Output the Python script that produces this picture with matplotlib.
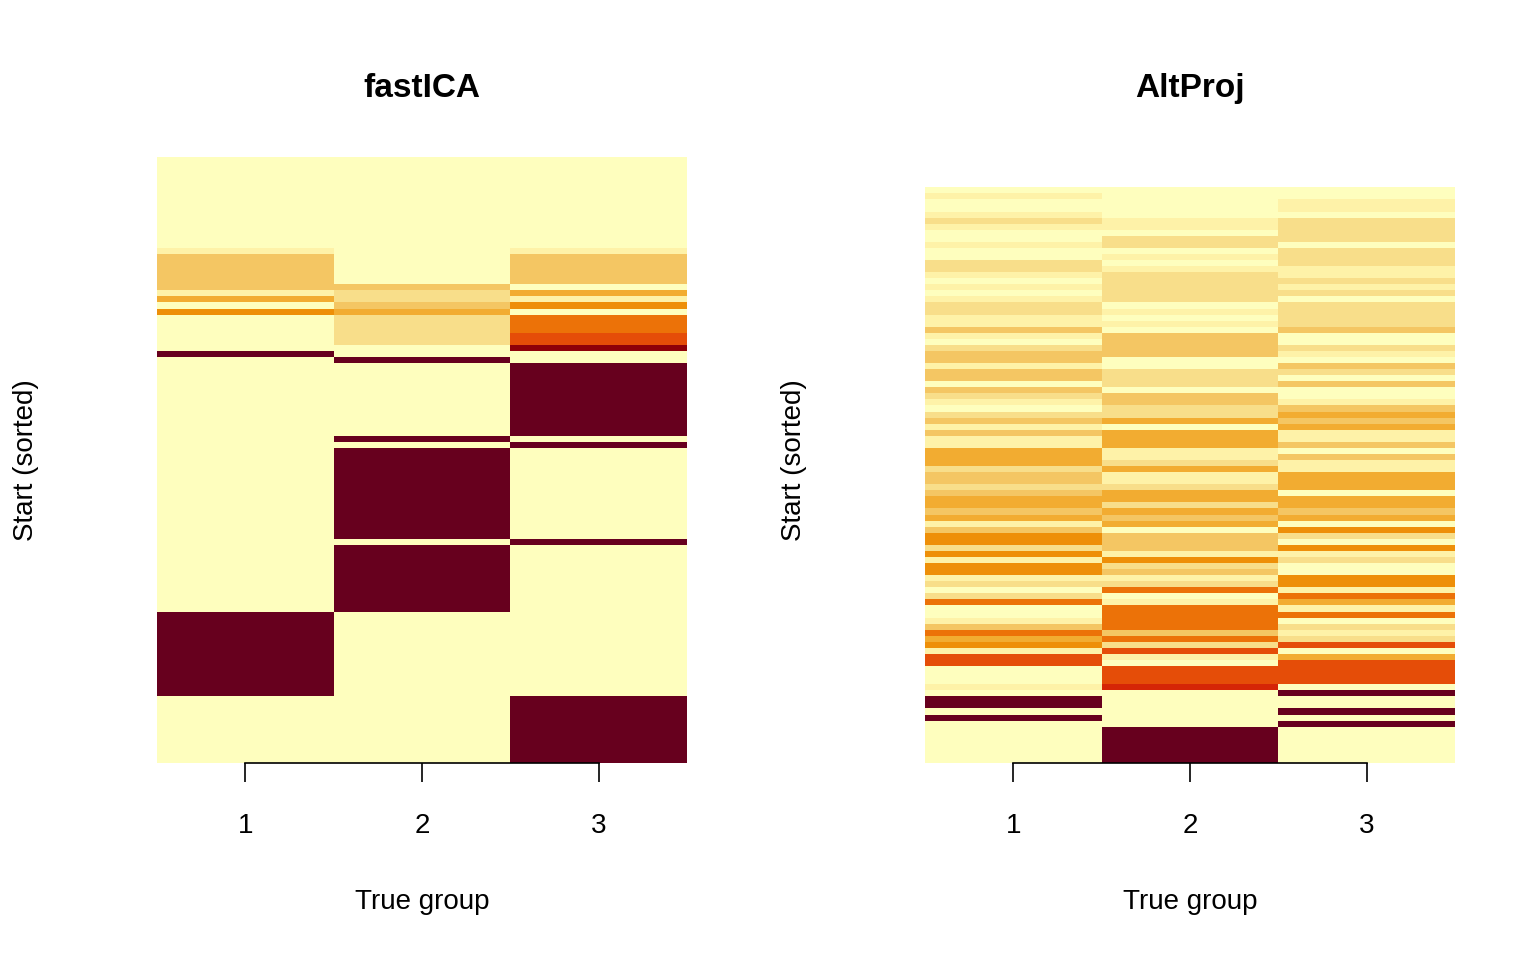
import numpy as np
import matplotlib.pyplot as plt
from matplotlib.colors import ListedColormap, BoundaryNorm

plt.rcParams['font.family'] = ['Liberation Sans', 'DejaVu Sans']

# colour levels 0 (light) .. 10 (dark)
PALETTE = ['#FEFEBE', '#FEF2A8', '#F8DE8A', '#F4C663', '#F2AC31', '#EE8F08',
           '#EC7208', '#E54D08', '#D52506', '#8E0009', '#67001E']

groups = ['1', '2', '3']

# fastICA: (col1, col2, col3) levels, run length
fastica_runs = [
    ((0, 0, 0), 15), ((1, 0, 1), 1), ((3, 0, 3), 5), ((3, 3, 0), 1),
    ((1, 2, 4), 1), ((4, 2, 1), 1), ((0, 3, 5), 1), ((5, 4, 0), 1),
    ((0, 2, 6), 3), ((0, 2, 7), 2), ((0, 0, 9), 1), ((10, 0, 0), 1),
    ((0, 10, 0), 1), ((0, 0, 10), 12), ((0, 10, 0), 1), ((0, 0, 10), 1),
    ((0, 10, 0), 15), ((0, 0, 10), 1), ((0, 10, 0), 11), ((10, 0, 0), 14),
    ((0, 0, 10), 11),
]

# AltProj: one row per start (95 rows)
altproj_col1 = [0, 1, 0, 0, 1, 2, 1, 0, 0, 1, 0, 0, 2, 2, 1, 0, 1, 0, 1, 2,
                2, 1, 1, 3, 1, 0, 2, 3, 3, 1, 3, 3, 0, 3, 2, 1, 0, 2, 3, 1,
                3, 1, 1, 4, 4, 4, 2, 3, 3, 2, 3, 4, 4, 3, 4, 1, 3, 5, 5, 2,
                5, 1, 5, 5, 1, 2, 0, 2, 6, 0, 0, 1, 3, 6, 4, 5, 1, 7, 7, 0,
                0, 0, 1, 0, 10, 10, 0, 10, 0, 0, 0, 0, 0, 0, 0]
altproj_col2 = [0, 0, 0, 0, 0, 1, 1, 0, 2, 2, 0, 1, 0, 1, 2, 2, 2, 2, 2, 0,
                1, 0, 1, 0, 3, 3, 3, 3, 0, 0, 2, 2, 2, 0, 3, 3, 2, 2, 4, 0,
                4, 4, 4, 1, 1, 2, 4, 1, 1, 2, 4, 4, 2, 4, 3, 4, 0, 3, 3, 3,
                1, 5, 2, 3, 1, 2, 6, 0, 1, 6, 6, 6, 6, 3, 6, 2, 7, 1, 0, 7,
                7, 7, 8, 0, 0, 0, 0, 0, 0, 10, 10, 10, 10, 10, 10]
altproj_col3 = [0, 0, 1, 1, 0, 2, 2, 2, 2, 0, 2, 2, 2, 1, 1, 2, 1, 2, 0, 2,
                2, 2, 2, 3, 0, 0, 2, 1, 0, 3, 2, 0, 3, 0, 0, 1, 3, 4, 3, 4,
                1, 1, 3, 0, 3, 1, 1, 4, 4, 4, 0, 4, 4, 3, 4, 0, 5, 2, 0, 5,
                1, 2, 0, 0, 5, 5, 1, 6, 4, 1, 6, 0, 2, 1, 2, 7, 0, 4, 7, 7,
                7, 7, 0, 10, 0, 0, 10, 0, 10, 0, 0, 0, 0, 0, 0]

fastica = np.array([lv for lv, n in fastica_runs for _ in range(n)], dtype=float)
altproj = np.column_stack([altproj_col1, altproj_col2, altproj_col3]).astype(float)
n_starts = len(fastica)

cmap = ListedColormap(PALETTE)
norm = BoundaryNorm(np.arange(-0.5, 11.5, 1), cmap.N)

fig = plt.figure(figsize=(15.36, 9.6), dpi=100)
W, H = 1536, 960
panels = [('fastICA', fastica, 157), ('AltProj', altproj, 925)]

for title, mat, x0 in panels:
    ax = fig.add_axes([x0 / W, 1 - 763 / H, 530 / W, 606 / H])
    nrow = mat.shape[0]
    ax.pcolormesh(np.arange(-0.5, 3.5, 1), np.arange(nrow + 1), mat,
                  cmap=cmap, norm=norm)
    ax.set_xlim(-0.5, 2.5)
    ax.set_ylim(nrow, nrow - n_starts)
    for s in ['top', 'right', 'left']:
        ax.spines[s].set_visible(False)
    ax.spines['bottom'].set_bounds(0, 2)
    ax.spines['bottom'].set_linewidth(1.2)
    ax.set_yticks([])
    ax.set_xticks(range(3))
    ax.set_xticklabels(groups, fontsize=20)
    ax.tick_params(axis='x', length=14, width=1.2, pad=22)
    ax.set_xlabel('True group', fontsize=20, labelpad=36)
    ax.set_ylabel('Start (sorted)', fontsize=20)
    ax.yaxis.set_label_coords(-0.222, 0.5)
    ax.set_title(title, fontsize=24, fontweight='bold', pad=43)

fig.savefig('out.png', dpi=100)
